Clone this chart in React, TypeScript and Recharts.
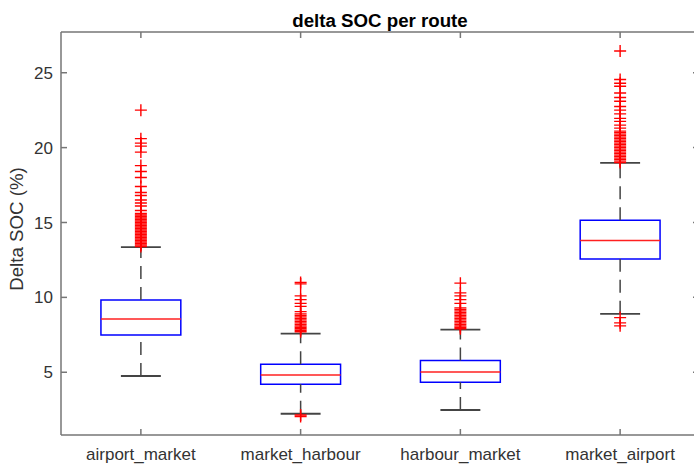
import { ComposedChart, XAxis, YAxis, Scatter, ReferenceArea, ReferenceLine } from 'recharts'

// box statistics per route
const routes = ['airport_market', 'market_harbour', 'harbour_market', 'market_airport']
const q1s = [7.49, 4.2, 4.33, 12.57]
const medians = [8.56, 4.82, 5.02, 13.79]
const q3s = [9.83, 5.53, 5.78, 15.15]
const lowerWhiskers = [4.75, 2.23, 2.48, 8.9]
const upperWhiskers = [13.35, 7.58, 7.85, 18.98]

const airportMarketOutliers = [
  13.4, 13.5, 13.6, 13.7, 13.8, 13.9, 14.0, 14.1, 14.2, 14.3, 14.4, 14.5, 14.6, 14.7,
  14.8, 14.9, 15.0, 15.1, 15.2, 15.3, 15.4, 15.5, 15.6, 15.8, 16.1, 16.3, 16.5, 16.8, 17.0, 17.4,
  18.0, 18.4, 18.8, 19.7, 20.1, 20.3, 20.6, 22.5,
]
const marketHarbourOutliers = [
  2.05, 2.15, 7.7, 7.8, 7.9, 8.0, 8.1, 8.2, 8.3, 8.4, 8.5, 8.6, 8.7, 8.8, 8.9, 9.05,
  9.4, 9.6, 9.85, 10.1, 10.9, 11.0,
]
const harbourMarketOutliers = [
  7.9, 8.0, 8.1, 8.2, 8.3, 8.4, 8.5, 8.6, 8.7, 8.8, 8.9, 9.0, 9.1, 9.2, 9.3, 9.6,
  9.85, 10.1, 10.3, 10.95,
]
const marketAirportOutliers = [
  8.1, 8.3, 8.65, 19.0, 19.1, 19.2, 19.3, 19.4, 19.5, 19.6, 19.7, 19.8, 19.9, 20.0,
  20.1, 20.2, 20.3, 20.4, 20.5, 20.6, 20.7, 20.8, 20.9, 21.0, 21.1, 21.3, 21.5, 21.75,
  21.95, 22.25, 22.5, 22.75, 23.1, 23.35, 23.65, 24.1, 24.3, 24.55, 26.45,
]
const outliers = [airportMarketOutliers, marketHarbourOutliers, harbourMarketOutliers, marketAirportOutliers]

const yTicks = [5, 10, 15, 20, 25]
const xTicks = [1, 2, 3, 4]
const yDomain: [number, number] = [0.81, 27.72]
const xDomain: [number, number] = [0.5, 4.5]

const FONT = '"Liberation Sans", Arial, sans-serif'
const AXIS = '#767676'
const TEXT = '#333333'
const TICK_LEN = 6

const points = outliers.flatMap((vals, i) => vals.map((v) => ({ x: i + 1, y: v })))

function Plus(props: any) {
  const { cx, cy } = props
  if (cx == null || cy == null) return null
  const r = 6
  return (
    <path
      d={`M${cx - r},${cy}H${cx + r}M${cx},${cy - r}V${cy + r}`}
      stroke="#ff0000"
      strokeWidth={1.4}
      fill="none"
    />
  )
}

// MATLAB-style ticks: short marks pointing into the plot, label outside
function BottomTick(props: any) {
  const { x, y, payload } = props
  return (
    <g>
      <line x1={x} x2={x} y1={y} y2={y - TICK_LEN} stroke={AXIS} strokeWidth={1.5} />
      <text x={x} y={y + 13} dy="0.71em" textAnchor="middle" fill={TEXT} fontSize={17} fontFamily={FONT}>
        {routes[payload.value - 1]}
      </text>
    </g>
  )
}

function LeftTick(props: any) {
  const { x, y, payload } = props
  return (
    <g>
      <line x1={x} x2={x + TICK_LEN} y1={y} y2={y} stroke={AXIS} strokeWidth={1.5} />
      <text x={x - 8} y={y} dy="0.355em" textAnchor="end" fill={TEXT} fontSize={17} fontFamily={FONT}>
        {payload.value}
      </text>
    </g>
  )
}

function TopTick(props: any) {
  const { x, y } = props
  return <line x1={x} x2={x} y1={y} y2={y + TICK_LEN} stroke={AXIS} strokeWidth={1.5} />
}

function RightTick(props: any) {
  const { x, y } = props
  return <line x1={x - TICK_LEN - 1} x2={x} y1={y} y2={y} stroke={AXIS} strokeWidth={1.5} />
}

export default function App() {
  return (
    <div style={{ position: 'absolute', left: 0, top: 0, width: 694, height: 467, overflow: 'hidden', background: '#fff' }}>
      <ComposedChart
        width={710}
        height={467}
        data={points}
        margin={{ top: 31, right: 0, bottom: 0, left: 0 }}
        style={{ fontFamily: FONT }}
      >
        <XAxis
          dataKey="x"
          type="number"
          domain={xDomain}
          ticks={xTicks}
          interval={0}
          allowDataOverflow
          height={32}
          tick={BottomTick}
          tickLine={false}
          tickSize={0}
          tickMargin={0}
          axisLine={{ stroke: AXIS, strokeWidth: 1.5 }}
        />
        <XAxis
          xAxisId="top"
          dataKey="x"
          orientation="top"
          type="number"
          domain={xDomain}
          ticks={xTicks}
          interval={0}
          allowDataOverflow
          height={1}
          tick={TopTick}
          tickLine={false}
          tickSize={0}
          tickMargin={0}
          axisLine={{ stroke: AXIS, strokeWidth: 1.5 }}
        />
        <YAxis
          dataKey="y"
          type="number"
          domain={yDomain}
          ticks={yTicks}
          interval={0}
          allowDataOverflow
          width={61}
          tick={LeftTick}
          tickLine={false}
          tickSize={0}
          tickMargin={0}
          axisLine={{ stroke: AXIS, strokeWidth: 1.5 }}
        />
        <YAxis
          yAxisId="right"
          dataKey="y"
          orientation="right"
          type="number"
          domain={yDomain}
          ticks={yTicks}
          interval={0}
          allowDataOverflow
          width={10}
          tick={RightTick}
          tickLine={false}
          tickSize={0}
          tickMargin={0}
          axisLine={{ stroke: AXIS, strokeWidth: 1.5 }}
        />

        {routes.map((r, i) => {
          const c = i + 1
          return [
            <ReferenceLine key={`uw-${r}`} segment={[{ x: c, y: q3s[i] }, { x: c, y: upperWhiskers[i] }]}
              stroke="#444" strokeWidth={1.5} strokeDasharray="13 8" ifOverflow="visible" />,
            <ReferenceLine key={`lw-${r}`} segment={[{ x: c, y: lowerWhiskers[i] }, { x: c, y: q1s[i] }]}
              stroke="#444" strokeWidth={1.5} strokeDasharray="13 8" ifOverflow="visible" />,
            <ReferenceLine key={`uc-${r}`} segment={[{ x: c - 0.125, y: upperWhiskers[i] }, { x: c + 0.125, y: upperWhiskers[i] }]}
              stroke="#444" strokeWidth={1.8} ifOverflow="visible" />,
            <ReferenceLine key={`lc-${r}`} segment={[{ x: c - 0.125, y: lowerWhiskers[i] }, { x: c + 0.125, y: lowerWhiskers[i] }]}
              stroke="#444" strokeWidth={1.8} ifOverflow="visible" />,
            <ReferenceArea key={`box-${r}`} x1={c - 0.25} x2={c + 0.25} y1={q1s[i]} y2={q3s[i]}
              fill="none" stroke="#0000ff" strokeWidth={1.5} ifOverflow="visible" />,
            <ReferenceLine key={`med-${r}`} segment={[{ x: c - 0.25, y: medians[i] }, { x: c + 0.25, y: medians[i] }]}
              stroke="#ff2020" strokeWidth={1.5} ifOverflow="visible" />,
          ]
        })}

        <Scatter dataKey="y" fill="#ff0000" shape={Plus} isAnimationActive={false} />

        <text x={380} y={26.5} textAnchor="middle" fontFamily={FONT} fontSize={18.7} fontWeight="bold" fill="#000">
          delta SOC per route
        </text>
        <text transform="translate(22.8,229) rotate(-90)" textAnchor="middle" fontFamily={FONT} fontSize={18.7} fill={TEXT}>
          Delta SOC (%)
        </text>
      </ComposedChart>
    </div>
  )
}
